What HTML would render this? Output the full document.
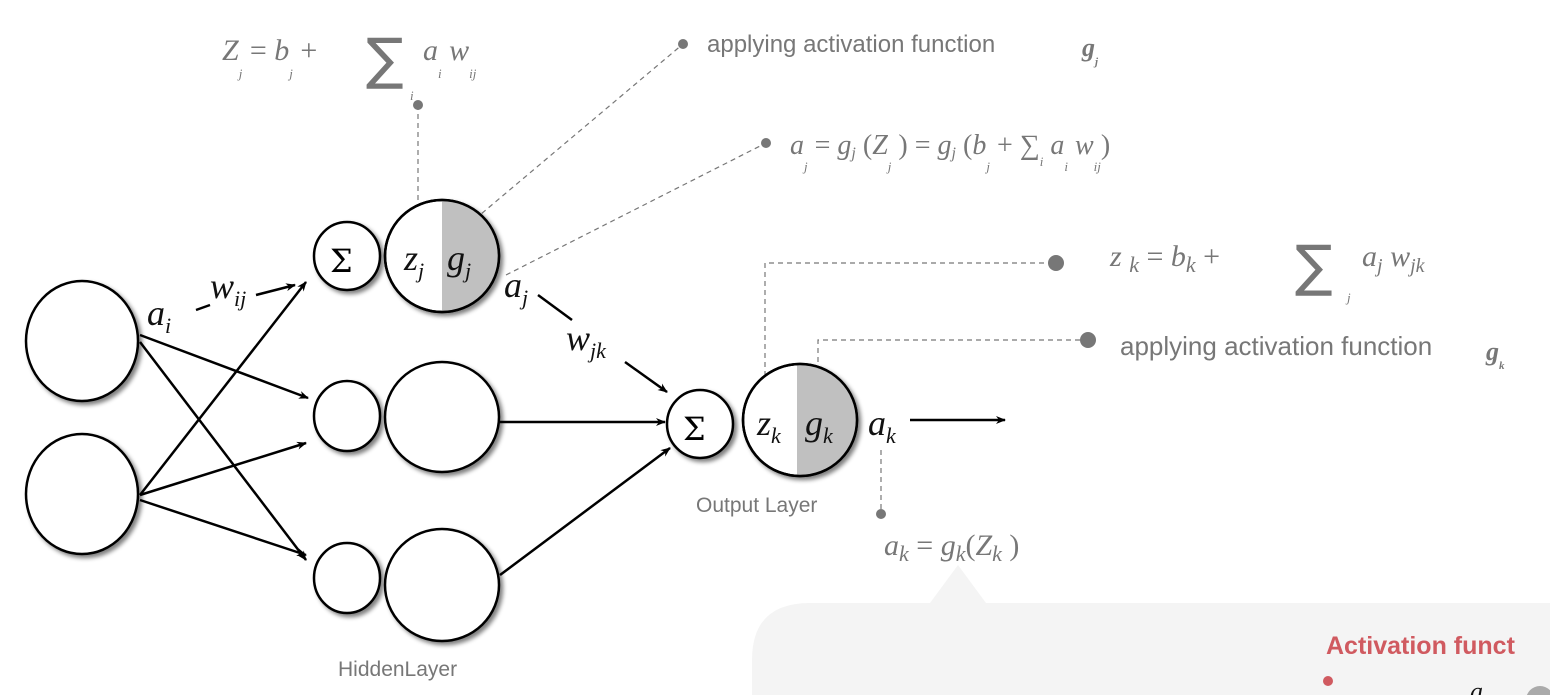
<!DOCTYPE html>
<html><head><style>
body{margin:0;background:#fff;}
svg{display:block}
.f{font-family:"Liberation Serif",serif;font-style:italic;fill:#777}
.s{font-family:"Liberation Sans",sans-serif;fill:#777}
.m{font-family:"Liberation Serif",serif;font-style:italic;fill:#111}
</style></head><body>
<svg width="1550" height="695" viewBox="0 0 1550 695" xmlns="http://www.w3.org/2000/svg">
<defs>
<marker id="ar" markerWidth="10" markerHeight="8" refX="9" refY="4" orient="auto" markerUnits="userSpaceOnUse"><path d="M0,0 L10,4 L0,8 L3,4z" fill="#000"/></marker>
<filter id="sh" x="-20%" y="-20%" width="150%" height="150%"><feGaussianBlur in="SourceAlpha" stdDeviation="2"/><feOffset dx="3" dy="3"/><feComponentTransfer><feFuncA type="linear" slope="0.5"/></feComponentTransfer><feMerge><feMergeNode/><feMergeNode in="SourceGraphic"/></feMerge></filter>
<clipPath id="cj"><rect x="442" y="190" width="70" height="130"/></clipPath>
<clipPath id="ck"><rect x="797" y="360" width="70" height="120"/></clipPath>
</defs>
<!-- callout -->
<path d="M810,603 L930,603 L958,565 L986,603 L1550,603 L1550,695 L752,695 L752,660 Q752,603 810,603z" fill="#f4f4f4"/>
<text x="1326" y="654" font-family="Liberation Sans,sans-serif" font-weight="bold" font-size="25" fill="#d05a60">Activation funct</text>
<circle cx="1328" cy="681" r="5" fill="#d05a60"/>
<text x="1470" y="700" class="m" font-size="26">a</text>
<circle cx="1540" cy="700" r="14" fill="#aaa"/>
<!-- dashed leaders -->
<g stroke="#777" stroke-width="1.2" stroke-dasharray="5,4" fill="none">
<line x1="418" y1="105" x2="418" y2="238"/>
<line x1="468" y1="225" x2="683" y2="44"/>
<line x1="506" y1="275" x2="766" y2="143"/>
<polyline points="765,385 765,263 1056,263"/>
<polyline points="818,380 818,340 1088,340"/>
<line x1="881" y1="450" x2="881" y2="514"/>
</g>
<g fill="#777"><circle cx="418" cy="105" r="5"/><circle cx="683" cy="44" r="5"/><circle cx="766" cy="143" r="5"/><circle cx="1056" cy="263" r="8"/><circle cx="1088" cy="340" r="8"/><circle cx="881" cy="514" r="5"/></g>
<!-- edges -->
<g stroke="#000" stroke-width="2.5" fill="none" marker-end="url(#ar)">
<line x1="140" y1="335" x2="308" y2="398"/>
<line x1="140" y1="342" x2="306" y2="560"/>
<line x1="140" y1="495" x2="306" y2="282"/>
<line x1="140" y1="495" x2="306" y2="443"/>
<line x1="140" y1="500" x2="306" y2="555"/>
<line x1="500" y1="422" x2="665" y2="422"/>
<line x1="500" y1="575" x2="670" y2="448"/>
<line x1="625" y1="362" x2="667" y2="392"/>
<line x1="910" y1="420" x2="1005" y2="420"/>
</g>
<line x1="196" y1="310" x2="210" y2="305" stroke="#000" stroke-width="2.5"/>
<line x1="256" y1="295" x2="295" y2="285" stroke="#000" stroke-width="2.5" marker-end="url(#ar)"/>
<line x1="538" y1="295" x2="572" y2="320" stroke="#000" stroke-width="2.5"/>
<!-- nodes -->
<g stroke="#000" stroke-width="2.5" fill="#fff" filter="url(#sh)">
<ellipse cx="82" cy="341" rx="56" ry="60"/>
<ellipse cx="82" cy="494" rx="56" ry="60"/>
<ellipse cx="347" cy="256" rx="33" ry="34"/>
<ellipse cx="442" cy="256" rx="57" ry="56"/>
<ellipse cx="347" cy="416" rx="33" ry="35"/>
<ellipse cx="442" cy="417" rx="57" ry="55"/>
<ellipse cx="347" cy="578" rx="33" ry="35"/>
<ellipse cx="442" cy="585" rx="57" ry="56"/>
<ellipse cx="700" cy="424" rx="33" ry="34"/>
<ellipse cx="800" cy="420" rx="57" ry="56"/>
</g>
<ellipse cx="442" cy="256" rx="56" ry="55" fill="#c0c0c0" clip-path="url(#cj)"/>
<ellipse cx="442" cy="256" rx="57" ry="56" fill="none" stroke="#000" stroke-width="2.5"/>
<ellipse cx="800" cy="420" rx="56" ry="55" fill="#c0c0c0" clip-path="url(#ck)"/>
<ellipse cx="800" cy="420" rx="57" ry="56" fill="none" stroke="#000" stroke-width="2.5"/>
<!-- node labels -->
<text x="330" y="272" font-family="DejaVu Serif,serif" font-size="32" fill="#000">Σ</text>
<text x="683" y="440" font-family="DejaVu Serif,serif" font-size="32" fill="#000">Σ</text>
<text x="404" y="270" class="m" font-size="36">z<tspan font-size="22" dy="8">j</tspan></text>
<text x="447" y="270" class="m" font-size="36">g<tspan font-size="22" dy="8">j</tspan></text>
<text x="757" y="435" class="m" font-size="36">z<tspan font-size="22" dy="8">k</tspan></text>
<text x="805" y="435" class="m" font-size="36">g<tspan font-size="22" dy="8">k</tspan></text>
<text x="868" y="435" class="m" font-size="36">a<tspan font-size="22" dy="8">k</tspan></text>
<text x="504" y="297" class="m" font-size="36">a<tspan font-size="22" dy="8">j</tspan></text>
<text x="147" y="325" class="m" font-size="36">a<tspan font-size="22" dy="8">i</tspan></text>
<text x="210" y="298" class="m" font-size="36">w<tspan font-size="22" dy="8">ij</tspan></text>
<text x="566" y="350" class="m" font-size="36">w<tspan font-size="22" dy="8">jk</tspan></text>
<text x="338" y="676" class="s" font-size="21">HiddenLayer</text>
<text x="696" y="512" class="s" font-size="21">Output Layer</text>
<!-- formulas -->
<text x="222" y="60" class="f" font-size="30">Z<tspan font-size="13" dy="18">j</tspan><tspan dy="-18" font-style="normal"> = </tspan>b<tspan font-size="13" dy="18">j</tspan><tspan dy="-18" font-style="normal"> + </tspan></text>
<text x="366" y="78" font-family="DejaVu Sans,sans-serif" font-size="56" fill="#777">∑</text>
<text x="410" y="100" class="f" font-size="13">i</text>
<text x="423" y="60" class="f" font-size="30">a<tspan font-size="13" dy="18">i</tspan><tspan dy="-18"> w</tspan><tspan font-size="13" dy="18">ij</tspan></text>
<text x="707" y="52" class="s" font-size="24">applying activation function</text>
<text x="1082" y="56" class="f" font-size="26" font-weight="bold">g<tspan font-size="11" dy="9">j</tspan></text>
<text x="790" y="154" class="f" font-size="28">a<tspan font-size="13" dy="17">j</tspan><tspan dy="-17" font-style="normal">  =  </tspan>g<tspan font-size="16" dy="4">j</tspan><tspan dy="-4" font-style="normal"> (</tspan>Z<tspan font-size="13" dy="17">j</tspan><tspan dy="-17" font-style="normal"> ) = </tspan>g<tspan font-size="16" dy="4">j</tspan><tspan dy="-4" font-style="normal"> (</tspan>b<tspan font-size="13" dy="17">j</tspan><tspan dy="-17" font-style="normal"> + ∑</tspan><tspan font-size="13" dy="12">i</tspan><tspan dy="-12"> a</tspan><tspan font-size="13" dy="17">i</tspan><tspan dy="-17"> w</tspan><tspan font-size="13" dy="17">ij</tspan><tspan dy="-17" font-style="normal">)</tspan></text>
<text x="1110" y="266" class="f" font-size="30">z <tspan font-size="22" dy="6">k</tspan><tspan dy="-6" font-style="normal"> = </tspan>b<tspan font-size="22" dy="6">k</tspan><tspan dy="-6" font-style="normal"> +</tspan></text>
<text x="1295" y="285" font-family="DejaVu Sans,sans-serif" font-size="56" fill="#777">∑</text>
<text x="1347" y="302" class="f" font-size="13">j</text>
<text x="1362" y="266" class="f" font-size="30">a<tspan font-size="20" dy="6">j</tspan><tspan dy="-6"> w</tspan><tspan font-size="20" dy="6">jk</tspan></text>
<text x="1120" y="355" class="s" font-size="26">applying activation function</text>
<text x="1486" y="360" class="f" font-size="26" font-weight="bold">g<tspan font-size="11" dy="9">k</tspan></text>
<text x="884" y="555" class="f" font-size="30">a<tspan font-size="22" dy="6">k</tspan><tspan dy="-6" font-style="normal">  =  </tspan>g<tspan font-size="22" dy="6">k</tspan><tspan dy="-6" font-style="normal">(</tspan>Z<tspan font-size="22" dy="6">k</tspan><tspan dy="-6" font-style="normal"> )</tspan></text>
</svg>
</body></html>
